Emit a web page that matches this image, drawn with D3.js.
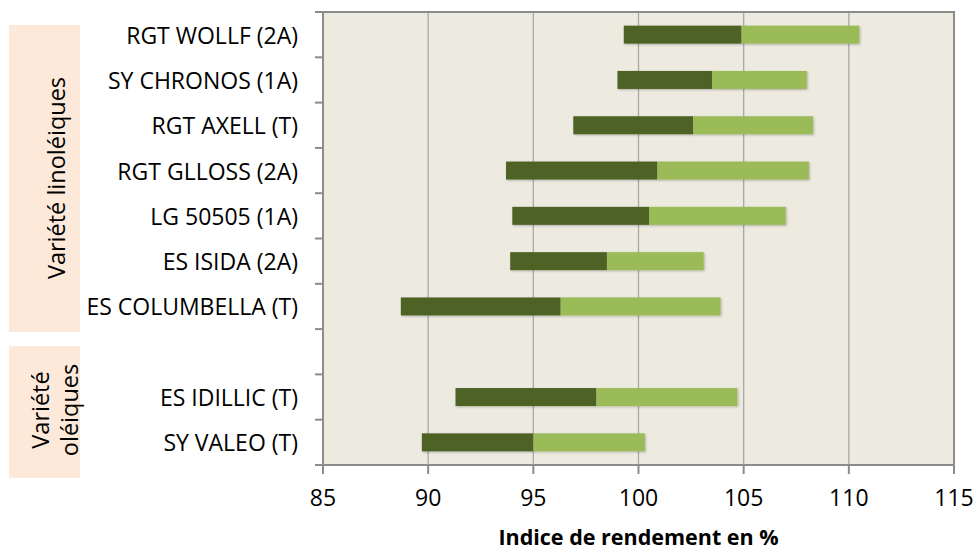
<!DOCTYPE html>
<html>
<head>
<meta charset="utf-8">
<script src="https://cdn.jsdelivr.net/npm/d3@7"></script>
<style>
  body { margin: 0; background: #fff; }
  text { font-family: "Open Sans", "Liberation Sans", sans-serif; fill: #000; }
</style>
</head>
<body>
<script>
var varieties = ["RGT WOLLF (2A)", "SY CHRONOS (1A)", "RGT AXELL (T)", "RGT GLLOSS (2A)",
    "LG 50505 (1A)", "ES ISIDA (2A)", "ES COLUMBELLA (T)", "", "ES IDILLIC (T)", "SY VALEO (T)"];
var minVals  = [99.3, 99.0, 96.9, 93.7, 94.0, 93.9, 88.7, null, 91.3, 89.7];
var meanVals = [104.9, 103.5, 102.6, 100.9, 100.5, 98.5, 96.3, null, 98.0, 95.0];
var maxVals  = [110.5, 108.0, 108.3, 108.1, 107.0, 103.1, 103.9, null, 104.7, 100.3];
var refValue = 99.84;
var xTicks = [85, 90, 95, 100, 105, 110, 115];

var width = 975, height = 550;
var plotLeft = 323, plotRight = 954, plotTop = 12, plotBottom = 465;

var svg = d3.select("body").append("svg")
    .attr("width", width)
    .attr("height", height);

var defs = svg.append("defs");
var f = defs.append("filter").attr("id", "shadow")
    .attr("x", "-100%").attr("y", "-10%").attr("width", "300%").attr("height", "130%");
f.append("feDropShadow").attr("dx", 2).attr("dy", 3).attr("stdDeviation", 2)
    .attr("flood-color", "#000").attr("flood-opacity", 0.35);
var fb = defs.append("filter").attr("id", "barshadow")
    .attr("x", "-10%").attr("y", "-30%").attr("width", "120%").attr("height", "160%");
fb.append("feDropShadow").attr("dx", 1).attr("dy", 1).attr("stdDeviation", 1)
    .attr("flood-color", "#000").attr("flood-opacity", 0.25);

var x = d3.scaleLinear().domain([85, 115]).range([plotLeft, plotRight]);
var y = d3.scaleBand().domain(d3.range(varieties.length)).range([plotTop, plotBottom]);

// group boxes on the left
svg.append("rect").attr("x", 9).attr("y", 25).attr("width", 71).attr("height", 307)
    .attr("fill", "#FDE9D9");
svg.append("rect").attr("x", 9).attr("y", 346).attr("width", 71).attr("height", 132)
    .attr("fill", "#FDE9D9");

svg.append("text")
    .attr("transform", "translate(" + 56 + "," + 178 + ") rotate(-90)")
    .attr("text-anchor", "middle")
    .attr("dominant-baseline", "central")
    .style("font-size", "23.5px")
    .text("Variété linoléiques");

svg.append("text")
    .attr("transform", "translate(" + 40 + "," + 410 + ") rotate(-90)")
    .attr("text-anchor", "middle")
    .attr("dominant-baseline", "central")
    .style("font-size", "23.5px")
    .text("Variété");
svg.append("text")
    .attr("transform", "translate(" + 69 + "," + 410 + ") rotate(-90)")
    .attr("text-anchor", "middle")
    .attr("dominant-baseline", "central")
    .style("font-size", "23.5px")
    .text("oléiques");

// plot background
svg.append("rect")
    .attr("x", plotLeft).attr("y", plotTop)
    .attr("width", plotRight - plotLeft).attr("height", plotBottom - plotTop)
    .attr("fill", "#EDEAE0");

// gridlines
svg.append("g").selectAll("line")
    .data(xTicks.slice(1, -1))
    .enter().append("line")
    .attr("x1", function (d) { return x(d); })
    .attr("x2", function (d) { return x(d); })
    .attr("y1", plotTop)
    .attr("y2", plotBottom)
    .attr("stroke", "#A8A8A8")
    .attr("stroke-width", 1.3);

// border top + right
svg.append("path")
    .attr("d", "M" + plotLeft + "," + plotTop + "H" + plotRight + "V" + plotBottom)
    .attr("fill", "none")
    .attr("stroke", "#8C8C8C")
    .attr("stroke-width", 2);

// bars
var rows = d3.range(varieties.length).filter(function (i) { return minVals[i] != null; });
var barH = 18;

svg.append("g").selectAll("rect")
    .data(rows)
    .enter().append("rect")
    .attr("x", function (i) { return x(minVals[i]); })
    .attr("y", function (i) { return y(i) + y.bandwidth() / 2 - barH / 2; })
    .attr("width", function (i) { return x(meanVals[i]) - x(minVals[i]); })
    .attr("height", barH)
    .attr("fill", "#4F6228")
    .attr("filter", "url(#barshadow)");

svg.append("g").selectAll("rect")
    .data(rows)
    .enter().append("rect")
    .attr("x", function (i) { return x(meanVals[i]); })
    .attr("y", function (i) { return y(i) + y.bandwidth() / 2 - barH / 2; })
    .attr("width", function (i) { return x(maxVals[i]) - x(meanVals[i]); })
    .attr("height", barH)
    .attr("fill", "#9BBB59")
    .attr("filter", "url(#barshadow)");

// y axis
svg.append("line")
    .attr("x1", plotLeft).attr("x2", plotLeft)
    .attr("y1", plotTop).attr("y2", plotBottom + 9)
    .attr("stroke", "#8C8C8C").attr("stroke-width", 2);

var yTicks = d3.range(varieties.length + 1);
svg.append("g").selectAll("line")
    .data(yTicks)
    .enter().append("line")
    .attr("x1", plotLeft - 8).attr("x2", plotLeft)
    .attr("y1", function (d) { return plotTop + d * y.step(); })
    .attr("y2", function (d) { return plotTop + d * y.step(); })
    .attr("stroke", "#8C8C8C").attr("stroke-width", 2);

svg.append("g").selectAll("text")
    .data(d3.range(varieties.length))
    .enter().append("text")
    .attr("x", 298)
    .attr("y", function (i) { return y(i) + y.bandwidth() / 2; })
    .attr("text-anchor", "end")
    .attr("dominant-baseline", "central")
    .style("font-size", "23px")
    .text(function (i) { return varieties[i]; });

// x axis
svg.append("line")
    .attr("x1", plotLeft - 8).attr("x2", plotRight)
    .attr("y1", plotBottom).attr("y2", plotBottom)
    .attr("stroke", "#8C8C8C").attr("stroke-width", 2);

svg.append("g").selectAll("line")
    .data(xTicks)
    .enter().append("line")
    .attr("x1", function (d) { return x(d); })
    .attr("x2", function (d) { return x(d); })
    .attr("y1", plotBottom).attr("y2", plotBottom + 9)
    .attr("stroke", "#8C8C8C").attr("stroke-width", 2);

svg.append("g").selectAll("text")
    .data(xTicks)
    .enter().append("text")
    .attr("x", function (d) { return x(d); })
    .attr("y", 497)
    .attr("text-anchor", "middle")
    .attr("dominant-baseline", "central")
    .style("font-size", "23px")
    .text(function (d) { return d; });

svg.append("text")
    .attr("x", x(100))
    .attr("y", 536)
    .attr("text-anchor", "middle")
    .attr("dominant-baseline", "central")
    .style("font-size", "21.5px")
    .style("font-weight", "bold")
    .text("Indice de rendement en %");

// reference line
svg.append("line")
    .attr("x1", x(refValue)).attr("x2", x(refValue))
    .attr("y1", plotTop + 5).attr("y2", plotBottom + 7)
    .attr("stroke", "#F79646")
    .attr("stroke-width", 8)
    .attr("filter", "url(#shadow)");
</script>
</body>
</html>
